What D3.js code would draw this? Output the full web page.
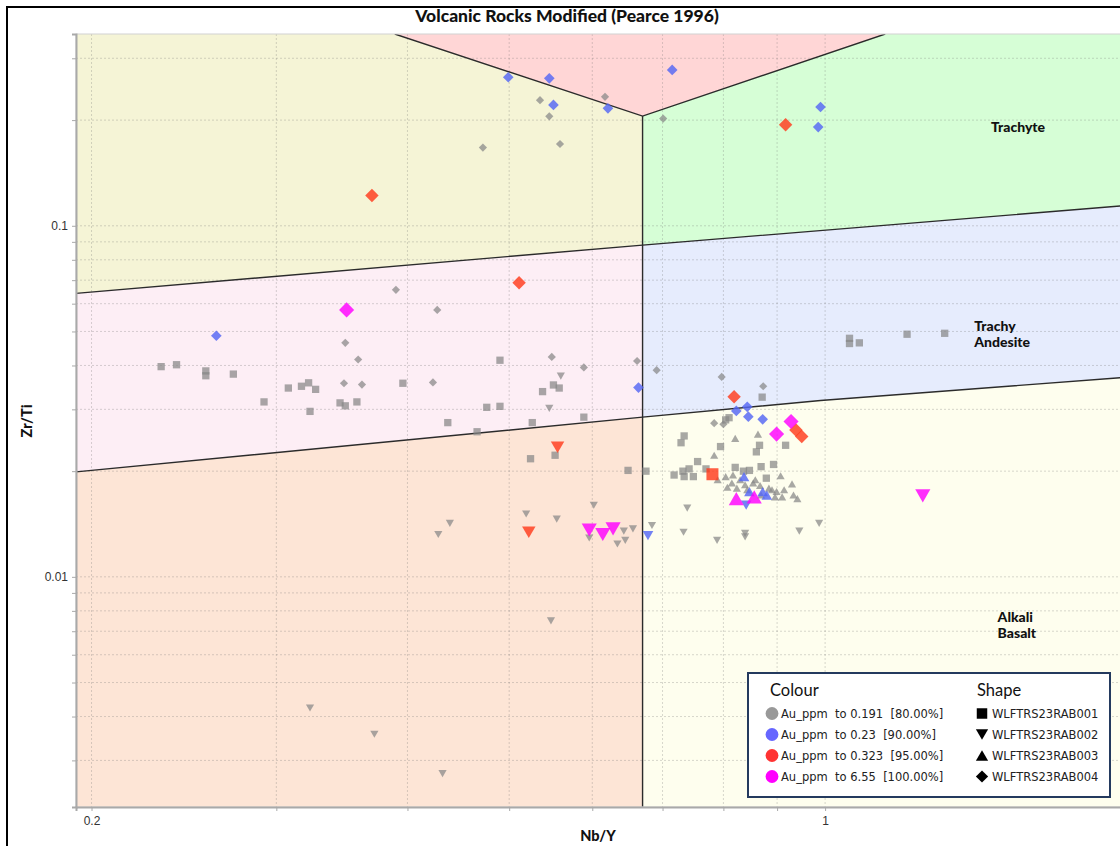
<!DOCTYPE html>
<html>
<head>
<meta charset="utf-8">
<script src="https://cdn.jsdelivr.net/npm/d3@7"></script>
<style>
  html, body { margin: 0; padding: 0; background: #ffffff; }
  svg { display: block; }
</style>
</head>
<body>
<svg id="chart" width="1120" height="846"></svg>
<script>
// ---- Legend classes ----------------------------------------------------
const auBins = [
  "Au_ppm  to 0.191  [80.00%]",
  "Au_ppm  to 0.23  [90.00%]",
  "Au_ppm  to 0.323  [95.00%]",
  "Au_ppm  to 6.55  [100.00%]"
];
const holes = ["WLFTRS23RAB001", "WLFTRS23RAB002", "WLFTRS23RAB003", "WLFTRS23RAB004"];

// ---- Samples per drill hole: [Nb/Y, Zr/Ti, Au class index] --------------
const rab001 = [
  [0.233,0.0397,0],[0.241,0.0402,0],[0.257,0.0386,0],[0.257,0.0374,0],[0.273,0.0378,0],
  [0.292,0.0315,0],[0.308,0.0345,0],[0.317,0.0349,0],[0.322,0.0357,0],[0.327,0.0342,0],
  [0.323,0.0296,0],[0.345,0.0313,0],[0.349,0.0307,0],[0.358,0.0315,0],[0.396,0.0356,0],
  [0.437,0.0275,0],[0.466,0.0259,0],[0.476,0.0304,0],[0.490,0.0306,0],[0.490,0.0414,0],
  [0.526,0.0275,0],[0.538,0.0337,0],[0.551,0.0352,0],[0.558,0.0345,0],[0.589,0.0285,0],
  [0.524,0.0217,0],[0.553,0.0222,0],[0.649,0.0201,0],[0.675,0.0200,0],[0.734,0.0252,0],
  [0.729,0.0241,0],[0.795,0.0235,0],[0.866,0.0237,0],[0.860,0.0227,0],[0.917,0.0237,0],
  [0.756,0.0213,0],[0.893,0.0209,0],[0.770,0.0203,0],[0.742,0.0203,0],[0.732,0.0200,0],
  [0.718,0.0195,0],[0.734,0.0193,0],[0.749,0.0193,0],[0.821,0.0205,0],[0.847,0.0201,0],
  [0.869,0.0206,0],[0.879,0.0191,0],[0.836,0.0200,0],[0.810,0.0284,0],[0.804,0.0280,0],
  [0.871,0.0325,0],[1.055,0.0478,0],[1.055,0.0462,0],[1.078,0.0464,0],[1.197,0.0491,0],
  [1.300,0.0494,0],
  [0.781,0.0196,2]
];
const rab002 = [
  [0.323,0.00423,0],[0.372,0.00356,0],[0.432,0.00275,0],[0.548,0.00749,0],[0.439,0.0142,0],
  [0.428,0.0132,0],[0.519,0.0151,0],[0.555,0.0146,0],[0.602,0.0160,0],[0.546,0.0302,0],
  [0.560,0.0373,0],[0.596,0.0129,0],[0.643,0.0135,0],[0.656,0.0137,0],[0.645,0.0127,0],
  [0.634,0.0124,0],[0.684,0.0140,0],[0.739,0.0157,0],[0.987,0.0142,0],[0.945,0.0135,0],
  [0.733,0.0134,0],[0.839,0.0133,0],[0.839,0.0130,0],[0.789,0.0127,0],
  [0.678,0.0131,1],[0.841,0.0160,1],
  [0.556,0.0234,2],[0.522,0.0134,2],
  [0.596,0.0136,3],[0.614,0.0132,3],[0.628,0.0137,3],[1.239,0.0170,3]
];
const rab003 = [
  [0.821,0.0248,0],[0.863,0.0255,0],[0.784,0.0222,0],[0.790,0.0189,0],[0.804,0.0193,0],
  [0.817,0.0195,0],[0.830,0.0189,0],[0.815,0.0185,0],[0.858,0.0189,0],[0.907,0.0194,0],
  [0.824,0.0179,0],[0.867,0.0182,0],[0.890,0.0177,0],[0.899,0.0175,0],[0.914,0.0177,0],
  [0.930,0.0184,0],[0.843,0.0177,0],[0.933,0.0171,0],[0.941,0.0167,0],[0.896,0.0169,0],
  [0.854,0.0185,0],[0.884,0.0179,0],[0.910,0.0169,0],[0.839,0.0183,0],[0.807,0.0180,0],
  [0.869,0.0171,0],
  [0.837,0.0193,1],[0.847,0.0175,1],[0.872,0.0175,1],[0.880,0.0171,1],
  [0.823,0.0167,3],[0.856,0.0169,3]
];
const rab004 = [
  [0.535,0.228,0],[0.546,0.205,0],[0.472,0.167,0],[0.559,0.171,0],[0.617,0.233,0],
  [0.701,0.202,0],[0.390,0.0657,0],[0.427,0.0576,0],[0.349,0.0464,0],[0.359,0.0416,0],
  [0.348,0.0356,0],[0.362,0.0353,0],[0.423,0.0358,0],[0.549,0.0423,0],[0.589,0.0395,0],
  [0.662,0.0412,0],[0.691,0.0388,0],[0.797,0.0371,0],[0.873,0.0349,0],[0.784,0.0274,0],
  [0.800,0.0272,0],
  [0.499,0.265,1],[0.546,0.263,1],[0.551,0.221,1],[0.715,0.278,1],[0.621,0.216,1],
  [0.990,0.218,1],[0.985,0.191,1],[0.263,0.0486,1],[0.664,0.0346,1],[0.823,0.0297,1],
  [0.843,0.0305,1],[0.845,0.0286,1],[0.872,0.0281,1],
  [0.370,0.122,2],[0.917,0.194,2],[0.511,0.0688,2],[0.819,0.0326,2],[0.938,0.0262,2],
  [0.950,0.0251,2],
  [0.350,0.0576,3],[0.928,0.0277,3],[0.899,0.0255,3]
];

// ---- Axes ----------------------------------------------------------------
const xDomain = [0.1933, 1.95];
const yDomain = [0.00221, 0.3518];
const xTicks = [0.2, 0.3, 0.4, 0.5, 0.6, 0.7, 0.8, 0.9, 1];
const xTickLabels = ["0.2", "", "", "", "", "", "", "", "1"];
const yTicks = [0.003, 0.004, 0.005, 0.006, 0.007, 0.008, 0.009,
                0.01, 0.02, 0.03, 0.04, 0.05, 0.06, 0.07, 0.08, 0.09,
                0.1, 0.2, 0.3];
const yTickLabels = ["", "", "", "", "", "", "", "0.01", "", "", "", "", "", "", "", "", "0.1", "", ""];

// ---- Field boundaries (Nb/Y, Zr/Ti) ---------------------------------------
const apexBoundary  = [[0.389, 0.3518], [0.67, 0.2053], [1.141, 0.3518]];
const upperBoundary = [[0.1933, 0.0642], [0.67, 0.0881], [1.95, 0.1144]];
const lowerBoundary = [[0.1933, 0.0199], [0.67, 0.0285], [0.99, 0.0318], [1.95, 0.0371]];
const alkaliDivide  = [[0.67, 0.2053], [0.67, 0.00221]];

const fieldNames  = ["Rhyolite/Dacite", "Alkali Rhyolite", "Trachyte", "Trachyandesite",
                     "Andesite/Basaltic Andesite", "Basalt", "Alkali Basalt"];
const fieldColours = ["#f5f4d6", "#ffd6d6", "#d6fed6", "#e6ecfd", "#fdeef5", "#fde5d6", "#fefeee"];

// ---- Layout ----------------------------------------------------------------
const plot = { left: 76, top: 34, right: 1129.5, bottom: 807 };

const svg = d3.select("#chart");
const x = d3.scaleLog().domain(xDomain).range([plot.left, plot.right]);
const y = d3.scaleLog().domain(yDomain).range([plot.bottom, plot.top]);

// outer frame
svg.append("rect")
  .attr("x", 7).attr("y", 7).attr("width", 1200).attr("height", 900)
  .attr("fill", "#fff").attr("stroke", "#000").attr("stroke-width", 2);

// title
svg.append("text")
  .attr("x", 567).attr("y", 21.5)
  .attr("text-anchor", "middle")
  .style("font-family", "Lato, 'Open Sans', sans-serif")
  .style("font-weight", "900").style("font-size", "17.5px")
  .attr("fill", "#111")
  .text("Volcanic Rocks Modified (Pearce 1996)");

svg.append("clipPath").attr("id", "plotClip")
  .append("rect")
  .attr("x", plot.left).attr("y", plot.top)
  .attr("width", plot.right - plot.left).attr("height", plot.bottom - plot.top);

const area = svg.append("g").attr("clip-path", "url(#plotClip)");

// field polygons built from the boundary lines
const [x0, x1] = xDomain, [y0, y1] = yDomain;
const A = apexBoundary, U = upperBoundary, L = lowerBoundary;
const fields = [
  [[x0, y1], A[0], A[1], U[1], U[0]],
  [A[0], A[2], A[1]],
  [A[1], A[2], [x1, y1], U[2], U[1]],
  [U[1], U[2], L[3], L[2], L[1]],
  [U[0], U[1], L[1], L[0]],
  [L[0], L[1], [L[1][0], y0], [x0, y0]],
  [L[1], L[2], L[3], [x1, y0], [L[1][0], y0]]
];
const line = d3.line().x(d => x(d[0])).y(d => y(d[1]));

area.selectAll("path.field")
  .data(fields)
  .join("path")
  .attr("class", "field")
  .attr("d", d => line(d) + "Z")
  .attr("fill", (d, i) => fieldColours[i]);

// grid
area.selectAll("line.gx").data(xTicks).join("line")
  .attr("x1", d => x(d)).attr("x2", d => x(d))
  .attr("y1", plot.top).attr("y2", plot.bottom)
  .attr("stroke", "rgba(110,110,110,0.28)").attr("stroke-width", 1)
  .attr("stroke-dasharray", "2,2");
area.selectAll("line.gy").data(yTicks).join("line")
  .attr("x1", plot.left).attr("x2", plot.right)
  .attr("y1", d => y(d)).attr("y2", d => y(d))
  .attr("stroke", "rgba(110,110,110,0.28)").attr("stroke-width", 1)
  .attr("stroke-dasharray", "2,2");

// boundary lines
[apexBoundary, upperBoundary, lowerBoundary, alkaliDivide].forEach(b => {
  area.append("path").attr("d", line(b))
    .attr("fill", "none").attr("stroke", "#2b2b2b").attr("stroke-width", 1.4);
});

// field labels
const fieldLabels = [
  { lines: ["Trachyte"], at: [1.527, 0.190], anchor: "middle" },
  { lines: ["Trachy", "Andesite"], at: [1.387, 0.0518], anchor: "start" },
  { lines: ["Alkali", "Basalt"], at: [1.46, 0.00764], anchor: "start" }
];
fieldLabels.forEach(f => {
  const t = area.append("text")
    .attr("text-anchor", f.anchor)
    .style("font-family", "Lato, 'Open Sans', sans-serif")
    .style("font-weight", "900").style("font-size", "14px")
    .attr("fill", "#111");
  f.lines.forEach((s, i) => {
    t.append("tspan").attr("x", x(f.at[0])).attr("y", y(f.at[1]) + 4.5 + i * 16).text(s);
  });
});

// ---- Markers ----------------------------------------------------------------
const classFill = ["#878787", "#5466f4", "#ff3a1c", "#ff00ff"];
const classSize = [7.3, 9.5, 12, 13.5];
const shapeScale = [1.0, 1.12, 1.12, 1.12];

const squareSym = { draw(c, s) { const h = Math.sqrt(s) / 2; c.rect(-h, -h, 2 * h, 2 * h); } };
const triDownSym = { draw(c, s) { const w = Math.sqrt(s), h = w * 0.87;
  c.moveTo(-w / 2, -h / 2); c.lineTo(w / 2, -h / 2); c.lineTo(0, h / 2); c.closePath(); } };
const triUpSym = { draw(c, s) { const w = Math.sqrt(s), h = w * 0.87;
  c.moveTo(-w / 2, h / 2); c.lineTo(w / 2, h / 2); c.lineTo(0, -h / 2); c.closePath(); } };
const diamondSym = { draw(c, s) { const h = Math.sqrt(s) / 2;
  c.moveTo(0, -h); c.lineTo(h, 0); c.lineTo(0, h); c.lineTo(-h, 0); c.closePath(); } };
const shapeTypes = [squareSym, triDownSym, triUpSym, diamondSym];

const samples = [];
[rab001, rab002, rab003, rab004].forEach((arr, s) =>
  arr.forEach(d => samples.push({ nbY: d[0], zrTi: d[1], au: d[2], hole: s })));
samples.sort((a, b) => a.au - b.au);

const sym = d3.symbol();
area.selectAll("path.pt")
  .data(samples)
  .join("path")
  .attr("class", "pt")
  .attr("transform", d => `translate(${x(d.nbY)},${y(d.zrTi)})`)
  .attr("d", d => sym.type(shapeTypes[d.hole])
    .size(Math.pow(classSize[d.au] * shapeScale[d.hole], 2))())
  .attr("fill", d => classFill[d.au])
  .attr("fill-opacity", d => d.au === 0 ? 0.72 : 0.82);

// ---- Axis frame & ticks ----------------------------------------------------
svg.append("rect")
  .attr("x", plot.left).attr("y", plot.top)
  .attr("width", plot.right - plot.left).attr("height", plot.bottom - plot.top)
  .attr("fill", "none").attr("stroke", "#d2d2d2").attr("stroke-width", 1);

const xAxis = d3.axisBottom(x).tickValues(xTicks)
  .tickFormat((d, i) => xTickLabels[i]).tickSize(4).tickPadding(5);
const yAxis = d3.axisLeft(y).tickValues(yTicks)
  .tickFormat((d, i) => yTickLabels[i]).tickSize(4).tickPadding(4);

const gx = svg.append("g").attr("transform", `translate(0,${plot.bottom})`).call(xAxis);
const gy = svg.append("g").attr("transform", `translate(${plot.left},0)`).call(yAxis);
[gx, gy].forEach(g => {
  g.select(".domain").attr("stroke", "#a9a9a9").attr("stroke-width", 2);
  g.selectAll(".tick line").attr("stroke", "#a9a9a9");
  g.selectAll(".tick text")
    .style("font-family", "'Liberation Sans', Arial, sans-serif")
    .style("font-size", "12px").attr("fill", "#333");
});

// axis titles
svg.append("text")
  .attr("x", 598).attr("y", 841).attr("text-anchor", "middle")
  .style("font-family", "Lato, 'Open Sans', sans-serif")
  .style("font-weight", "900").style("font-size", "14.5px").attr("fill", "#111")
  .text("Nb/Y");
svg.append("text")
  .attr("transform", "translate(32,421) rotate(-90)")
  .attr("text-anchor", "middle")
  .style("font-family", "Lato, 'Open Sans', sans-serif")
  .style("font-weight", "900").style("font-size", "14.5px").attr("fill", "#111")
  .text("Zr/Ti");

// ---- Legend ----------------------------------------------------------------
const legendFill = ["#999999", "#6666ff", "#ff3333", "#ff00ff"];
const lg = svg.append("g");
lg.append("rect")
  .attr("x", 748).attr("y", 673).attr("width", 362).attr("height", 124)
  .attr("fill", "#fff").attr("stroke", "#243a5e").attr("stroke-width", 2);
lg.append("text").attr("x", 770).attr("y", 696)
  .style("font-family", "Lato, 'Open Sans', sans-serif").style("font-size", "16.5px")
  .attr("fill", "#111").text("Colour");
lg.append("text").attr("x", 977).attr("y", 696)
  .style("font-family", "Lato, 'Open Sans', sans-serif").style("font-size", "16.5px")
  .attr("fill", "#111").text("Shape");

const rowY = i => 713.5 + i * 21;
auBins.forEach((label, i) => {
  lg.append("circle").attr("cx", 772).attr("cy", rowY(i)).attr("r", 6.4)
    .attr("fill", legendFill[i]);
  lg.append("text").attr("x", 781).attr("y", rowY(i) + 4.5)
    .style("font-family", "'DejaVu Sans', sans-serif").style("font-size", "11.5px")
    .style("white-space", "pre").attr("fill", "#222").text(label);
});
holes.forEach((label, i) => {
  lg.append("path")
    .attr("transform", `translate(982,${rowY(i)})`)
    .attr("d", d3.symbol().type(shapeTypes[i]).size(i === 0 ? 110 : 150)())
    .attr("fill", "#000");
  lg.append("text").attr("x", 992).attr("y", rowY(i) + 4.5)
    .style("font-family", "'DejaVu Sans', sans-serif").style("font-size", "11.5px")
    .attr("fill", "#222").text(label);
});
</script>
</body>
</html>
